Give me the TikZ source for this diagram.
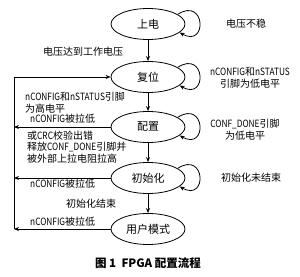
\documentclass[tikz,border=0pt]{standalone}
\usepackage{fontspec}
\setmainfont{Noto Sans CJK SC}
\newfontfamily\narrow[FakeStretch=0.83]{Noto Sans CJK SC}
\newcommand\lat[1]{{\narrow #1}}
\usepackage{tikz}
\usetikzlibrary{arrows.meta,shapes.geometric}
\tikzset{
  st/.style={draw,ellipse,line width=0.8pt,minimum width=74pt,minimum height=31pt,inner sep=0pt,font=\fontsize{11pt}{12pt}\selectfont},
  arr/.style={-{Stealth[length=5pt,width=4pt]},line width=0.8pt},
  lbl/.style={font=\fontsize{10pt}{12pt}\selectfont,inner sep=0pt},
  captxt/.style={font=\fontsize{11.5pt}{12pt}\selectfont\bfseries,inner sep=0pt},
}
\begin{document}
\begin{tikzpicture}[x=1pt,y=1pt]
  \useasboundingbox (0,0) rectangle (300,276);
  % states
  \node[st] (pwr) at (148,252) {上电};
  \node[st] (rst) at (148,199) {复位};
  \node[st] (cfg) at (148,149) {配置};
  \node[st] (ini) at (148,98) {初始化};
  \node[st] (usr) at (148,47) {用户模式};
  % main flow
  \draw[arr] (pwr) -- (rst);
  \draw[arr] (rst) -- (cfg);
  \draw[arr] (cfg) -- (ini);
  \draw[arr] (ini) -- (usr);
  \foreach \s in {pwr,rst,cfg,ini}
    {\draw[arr] (\s.18) .. controls +(28,18) and +(28,-16) .. (\s.-15);}
  % return line
  \coordinate (ltop) at (14,199);
  \coordinate (lcfg) at (14,149);
  \coordinate (lini) at (14,98);
  \coordinate (lbot) at (14,47);
  \draw[line width=0.8pt] (ltop) -- (lbot);
  \draw[arr] (ltop) -- (rst.west);
  \draw[arr] (cfg.west) -- (lcfg);
  \draw[arr] (ini.west) -- (lini);
  \draw[arr] (usr.west) -- (lbot);
  % labels
  \node[lbl] (tunst) at (246,252) {电压不稳};
  \node[lbl] (tvok) at (83,224) {电压达到工作电压};
  \node[lbl,align=center] (tlow) at (250,198) {\lat{nCONFIG}和\lat{nSTATUS}\\引脚为低电平};
  \node[lbl,align=left,anchor=west] (thigh) at (25,173) {\lat{nCONFIG}和\lat{nSTATUS}引脚\\为高电平};
  \node[lbl,anchor=west] (tpull1) at (30,157) {\lat{nCONFIG}被拉低};
  \node[lbl,anchor=west] (tcrc) at (27,140) {或\lat{CRC}校验出错};
  \node[lbl,align=center] (tdone) at (245,146) {\lat{CONF\_DONE}引脚\\为低电平};
  \node[lbl,align=left,anchor=west] (trel) at (27,123) {释放\lat{CONF\_DONE}引脚并\\被外部上拉电阻拉高};
  \node[lbl] (tinino) at (251,98) {初始化未结束};
  \node[lbl,anchor=west] (tpull2) at (30,92) {\lat{nCONFIG}被拉低};
  \node[lbl] (tiniok) at (91,72) {初始化结束};
  \node[lbl,anchor=west] (tpull3) at (30,54) {\lat{nCONFIG}被拉低};
  % caption
  \node[captxt] (cap) at (148,13) {图 1\ \ FPGA 配置流程};
\end{tikzpicture}
\end{document}
